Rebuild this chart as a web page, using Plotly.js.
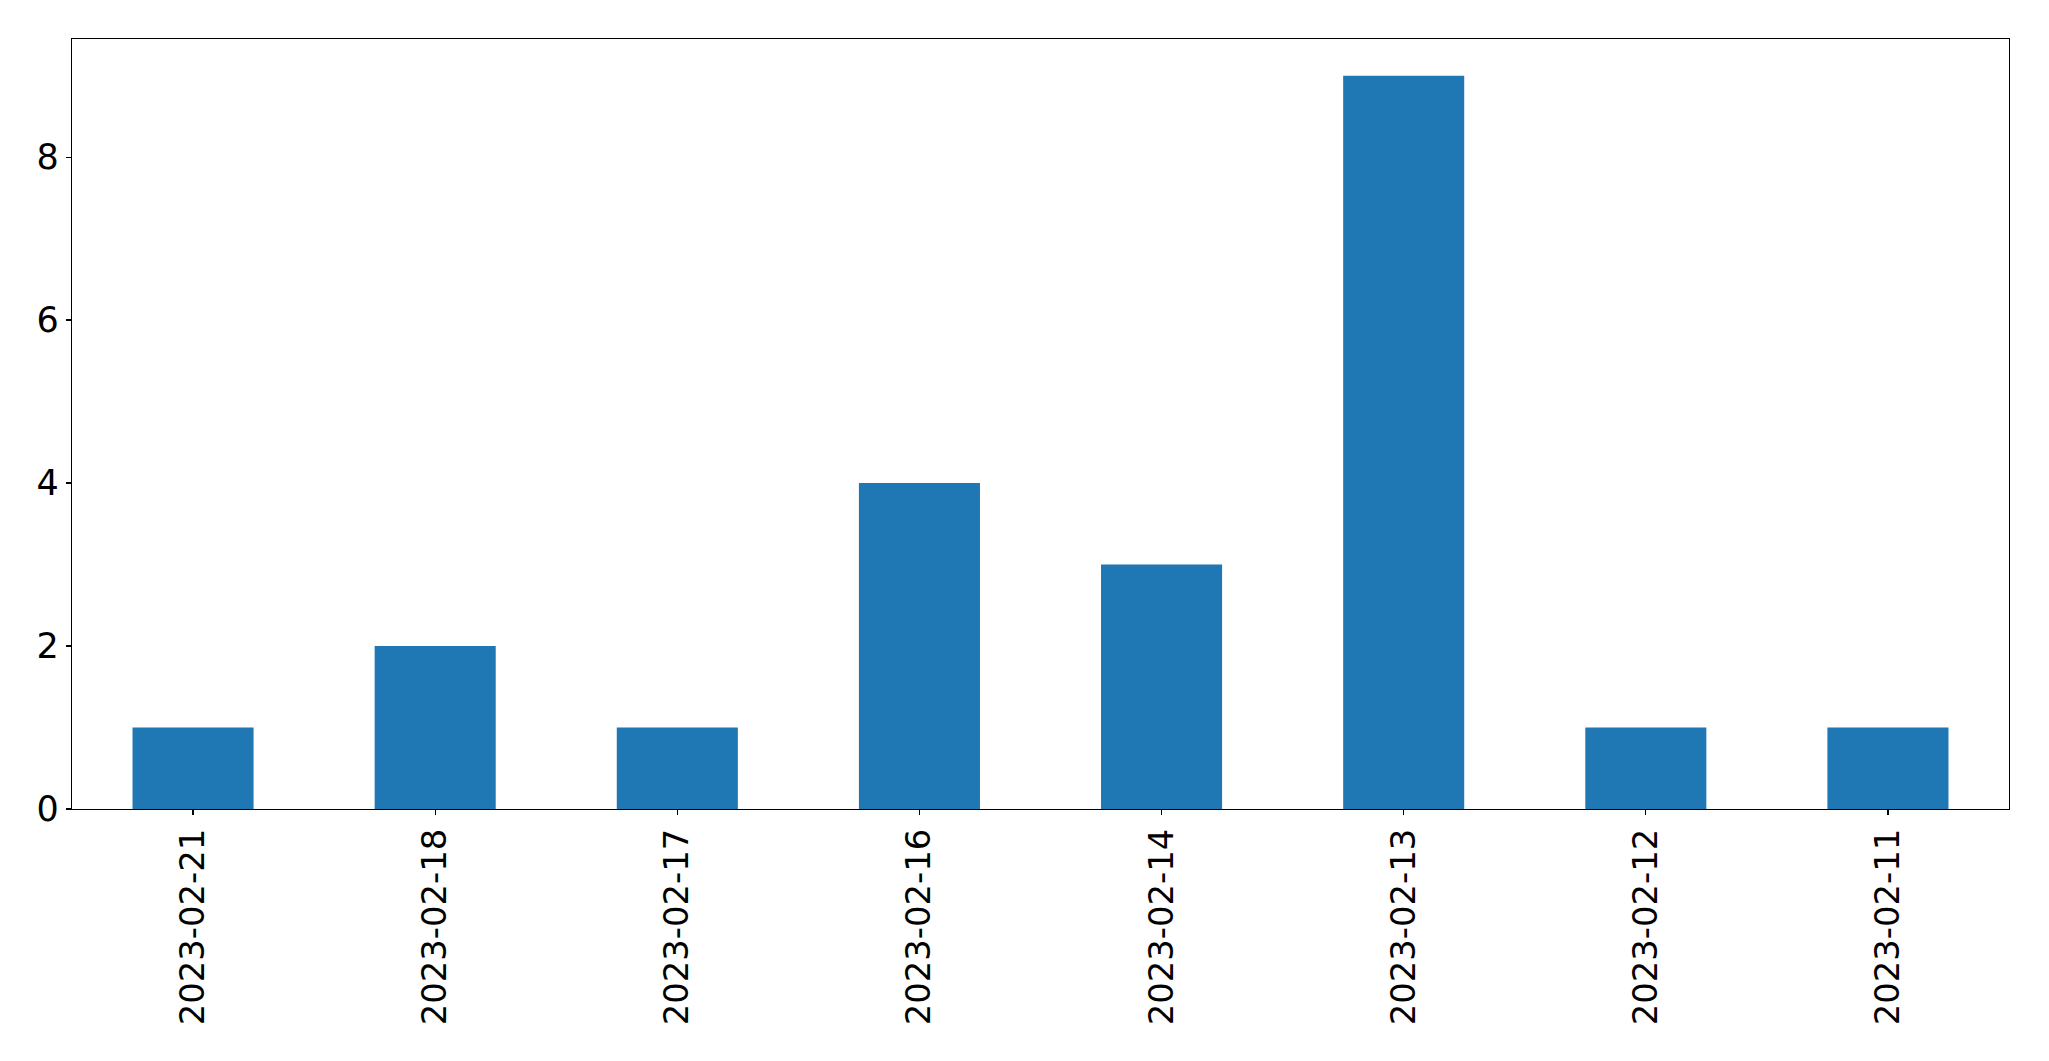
<!DOCTYPE html>
<html>
<head>
<meta charset="utf-8">
<script src="https://cdn.plot.ly/plotly-3.0.1.min.js"></script>
<style>html,body{margin:0;padding:0;background:#fff;}#chart{width:2049px;height:1061px;}</style>
</head>
<body>
<div id="chart"></div>
<script>
const categories = ["2023-02-21","2023-02-18","2023-02-17","2023-02-16","2023-02-14","2023-02-13","2023-02-12","2023-02-11"];
const counts = [1, 2, 1, 4, 3, 9, 1, 1];
const yTicks = [0, 2, 4, 6, 8];

const trace = {
  type: 'bar',
  x: categories,
  y: counts,
  width: 0.5,
  marker: {color: '#1f77b4', line: {width: 0}},
  hoverinfo: 'x+y'
};

const layout = {
  width: 2049,
  height: 1061,
  margin: {l: 72, r: 40, t: 39, b: 252, pad: 0},
  paper_bgcolor: '#ffffff',
  plot_bgcolor: '#ffffff',
  showlegend: false,
  font: {family: 'DejaVu Sans', size: 33.8, color: '#000000'},
  xaxis: {
    type: 'category',
    range: [-0.5, categories.length - 0.5],
    tickangle: -90,
    ticks: 'outside',
    ticklen: 5,
    tickwidth: 1.3,
    tickcolor: '#000',
    showline: true,
    linecolor: '#000',
    linewidth: 1.3,
    mirror: true,
    showgrid: false,
    zeroline: false,
    tickfont: {family: 'DejaVu Sans', size: 33.8, color: '#000'}
  },
  yaxis: {
    range: [0, 9.45],
    tickvals: yTicks,
    ticktext: yTicks.map(String),
    ticks: 'outside',
    ticklen: 5,
    tickwidth: 1.3,
    tickcolor: '#000',
    showline: true,
    linecolor: '#000',
    linewidth: 1.3,
    mirror: true,
    showgrid: false,
    zeroline: false,
    tickfont: {family: 'DejaVu Sans', size: 35, color: '#000'}
  }
};

Plotly.newPlot('chart', [trace], layout, {displayModeBar: false, staticPlot: true});
</script>
</body>
</html>
